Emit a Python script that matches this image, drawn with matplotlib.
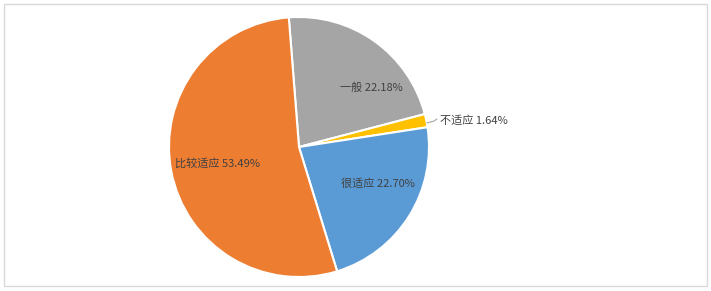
import matplotlib
matplotlib.use("Agg")
import matplotlib.pyplot as plt
from matplotlib.patches import Rectangle

plt.rcParams['font.family'] = ['Noto Sans CJK SC', 'DejaVu Sans']

categories = ['一般', '不适应', '很适应', '比较适应']
values = [22.18, 1.64, 22.70, 53.49]
colors = ['#A5A5A5', '#FFC000', '#5B9BD5', '#ED7D31']

W, H = 711, 291
fig = plt.figure(figsize=(W / 100, H / 100), dpi=100)
fig.patches.append(Rectangle((4 / W, 5 / H), 703 / W, 282 / H, transform=fig.transFigure,
                             fill=False, edgecolor='#D9D9D9', linewidth=1))

cx, cy, r = 299, 144, 130
ax = fig.add_axes([(cx - r) / W, (cy - r) / H, 2 * r / W, 2 * r / H])
ax.pie(values, colors=colors, startangle=94.5, counterclock=False,
       wedgeprops=dict(edgecolor='white', linewidth=1.5))
ax.set_xlim(-1, 1)
ax.set_ylim(-1, 1)
ax.set_aspect('equal')
ax.axis('off')

tc = '#404040'
fs = 8
labels = [f'{c} {v:.2f}%' for c, v in zip(categories, values)]
ax.text(0.56, 0.46, labels[0], ha='center', va='center', fontsize=fs, color=tc)
ax.text(1.085, 0.2, labels[1], ha='left', va='center', fontsize=fs, color=tc)
ax.plot([0.985, 1.04, 1.06], [0.185, 0.2, 0.215], color='#A6A6A6', lw=0.8, clip_on=False)
ax.text(0.61, -0.28, labels[2], ha='center', va='center', fontsize=fs, color=tc)
ax.text(-0.625, -0.125, labels[3], ha='center', va='center', fontsize=fs, color=tc)

fig.savefig('out.png', dpi=100)
